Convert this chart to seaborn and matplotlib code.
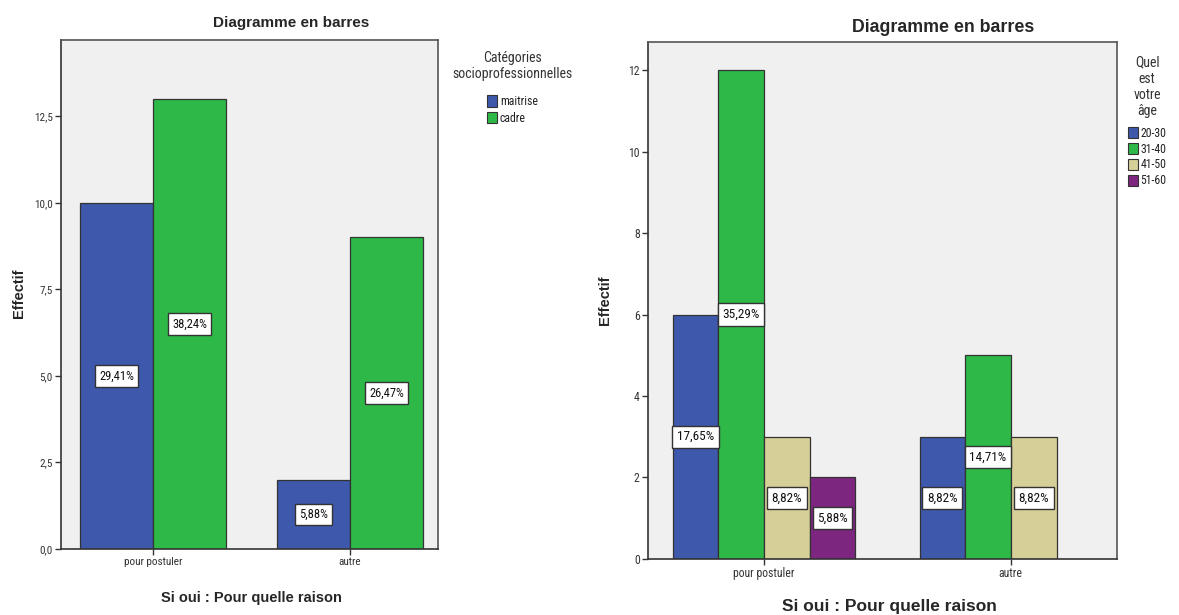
import matplotlib
matplotlib.use("Agg")
import matplotlib.pyplot as plt
import matplotlib.font_manager as fm
from matplotlib.font_manager import FontProperties
import seaborn as sns
import pandas as pd

# Data
raisons = ["pour postuler", "autre"]

categories = ["maitrise", "cadre"]
effectif_categorie = {
    "maitrise": [10, 2],
    "cadre": [13, 9],
}

ages = ["20-30", "31-40", "41-50", "51-60"]
effectif_age = {
    "20-30": [6, 3],
    "31-40": [12, 5],
    "41-50": [3, 3],
    "51-60": [2, None],
}

left_yticks = [0, 2.5, 5.0, 7.5, 10.0, 12.5]
right_yticks = [0, 2, 4, 6, 8, 10, 12]

palette = {
    "maitrise": "#3e58ac", "cadre": "#2eb848",
    "20-30": "#3e58ac", "31-40": "#2eb848", "41-50": "#d6cf97", "51-60": "#7d2680",
}

sns.set_theme(style="white")
plt.rcParams["font.family"] = ["Liberation Sans", "DejaVu Sans"]


def _is_bold(entry):
    w = entry.weight
    if isinstance(w, str):
        return "bold" in w.lower() or w.lower() in ("heavy", "black")
    return w >= 600


def _is_condensed(entry):
    name = entry.name.lower()
    st = str(entry.stretch).lower()
    return "narrow" in name or "condensed" in name or "condensed" in st


def _pick_condensed(bold):
    prefs = ["liberation sans narrow", "arial narrow", "roboto condensed",
             "open sans condensed", "noto sans", "dejavu sans"]
    cands = [f for f in fm.fontManager.ttflist
             if _is_condensed(f) and _is_bold(f) == bold and str(f.style) == "normal"]
    for p in prefs:
        for f in cands:
            if f.name.lower().startswith(p):
                return f.fname
    return cands[0].fname if cands else None


_narrow = {False: _pick_condensed(False), True: _pick_condensed(True)}


def narrow_font(size, bold=False):
    path = _narrow[bold]
    if path:
        fp = FontProperties(fname=path)
    else:
        fp = FontProperties(family="Liberation Sans", weight="bold" if bold else "normal")
    fp.set_size(size)
    return fp


def long_table(counts, levels):
    rows = []
    for lvl in levels:
        for r, v in zip(raisons, counts[lvl]):
            if v is not None:
                rows.append({"raison": r, "groupe": lvl, "effectif": v})
    return pd.DataFrame(rows)


def draw(ax, df, levels, yticks, ylim, xlim, legend_title, legend_pos, ytickfmt, s):
    sns.barplot(data=df, x="raison", y="effectif", hue="groupe", order=raisons,
                hue_order=levels, palette=palette, width=0.74, errorbar=None,
                edgecolor="#333333", linewidth=0.9, saturation=1, ax=ax)
    ax.set_facecolor("#f0f0f0")
    ax.set_ylim(*ylim)
    ax.set_xlim(*xlim)
    ax.set_yticks(yticks)
    ax.set_yticklabels([ytickfmt(t) for t in yticks], fontproperties=narrow_font(s["tick"]),
                       color="#333333")
    ax.set_xticks(range(len(raisons)))
    ax.set_xticklabels(raisons, fontproperties=narrow_font(s["tick"]), color="#333333")
    ax.tick_params(axis="both", direction="out", length=4, width=1, color="#333333",
                   left=True, bottom=True, pad=2)
    for sp in ax.spines.values():
        sp.set_color("#555555")
        sp.set_linewidth(1.2)
    ax.spines["left"].set_color("#333333")
    ax.spines["bottom"].set_color("#333333")
    ax.set_ylabel("Effectif", fontsize=s["ylab"], fontweight="bold", family="Liberation Sans")
    ax.yaxis.set_label_coords(*s["ylab_xy"])
    ax.set_xlabel("Si oui : Pour quelle raison", fontsize=s["xlab"], fontweight="bold",
                  family="Liberation Sans")
    ax.xaxis.set_label_coords(*s["xlab_xy"])
    ax.set_title("Diagramme en barres", fontsize=s["title"], fontweight="bold",
                 family="Liberation Sans", x=s["title_x"], pad=s["title_pad"])

    total = df["effectif"].sum()
    for cont in ax.containers:
        labels = []
        for p in cont:
            h = p.get_height()
            labels.append(f"{h / total * 100:.2f}%".replace(".", ",") if h == h and h > 0 else "")
        ax.bar_label(cont, labels=labels, label_type="center",
                     fontproperties=narrow_font(s["bar"]), color="#111111",
                     bbox=dict(boxstyle="square,pad=0.35", fc="white", ec="#333333", lw=1.0))

    sns.move_legend(ax, "upper left", bbox_to_anchor=legend_pos, title=legend_title,
                    frameon=False, prop=narrow_font(s["leg"]),
                    handlelength=0.9, handleheight=1.1, handletextpad=0.2,
                    labelspacing=s["legspace"], borderpad=0)
    leg = ax.get_legend()
    leg.get_title().set_fontproperties(narrow_font(s["legt"]))
    leg.get_title().set_multialignment("center")
    leg.get_title().set_color("#333333")
    leg._legend_box.align = "center"
    leg._legend_box.sep = s["legsep"]
    for t in leg.get_texts():
        t.set_color("#222222")
    for h in leg.legend_handles:
        h.set_edgecolor("#333333")
        h.set_linewidth(0.8)


fig = plt.figure(figsize=(11.79, 6.15), dpi=100)
ax1 = fig.add_axes([0.0517, 0.1073, 0.3198, 0.8277])
ax2 = fig.add_axes([0.5496, 0.0911, 0.3978, 0.8406])

left_style = dict(tick=8, ylab=10.5, xlab=10.5, title=11, bar=9, leg=8.5, legt=10,
                  ylab_xy=(-0.094, 0.503), xlab_xy=(0.504, -0.083),
                  title_x=0.61, title_pad=9, legsep=10, legspace=0.3)
right_style = dict(tick=8.5, ylab=10.5, xlab=12.5, title=12.8, bar=9.5, leg=8.5, legt=10,
                   ylab_xy=(-0.077, 0.50), xlab_xy=(0.514, -0.078),
                   title_x=0.63, title_pad=7, legsep=6, legspace=0.25)

draw(ax1, long_table(effectif_categorie, categories), categories, left_yticks,
     (0, 14.7), (-0.467, 1.447), "Catégories\nsocioprofessionnelles", (1.022, 0.99),
     lambda t: f"{t:.1f}".replace(".", ","), left_style)
draw(ax2, long_table(effectif_age, ages), ages, right_yticks,
     (0, 12.69), (-0.47, 1.43), "Quel\nest\nvotre\nâge", (1.01, 0.985),
     lambda t: f"{t:d}", right_style)

fig.savefig("out.png", dpi=100)
